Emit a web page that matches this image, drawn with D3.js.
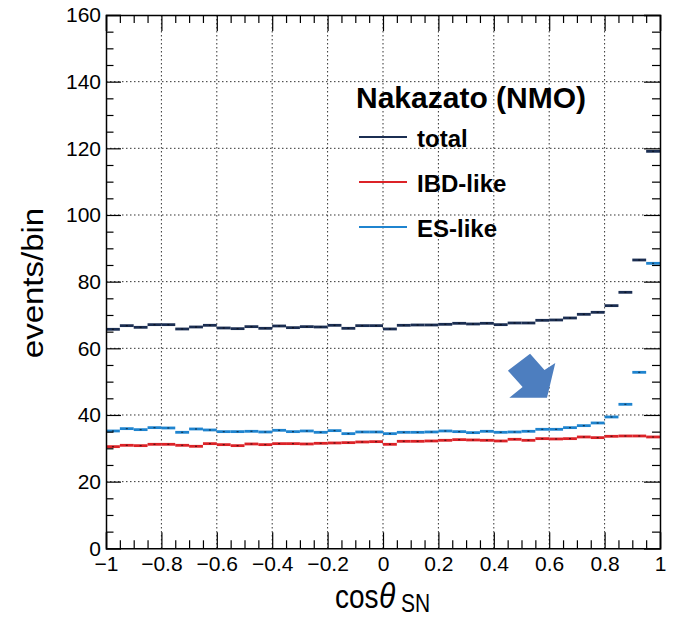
<!DOCTYPE html>
<html>
<head>
<meta charset="utf-8">
<script src="https://cdn.jsdelivr.net/npm/d3@7"></script>
<style>
  html, body { margin: 0; padding: 0; background: #fff; }
  svg { display: block; font-family: "Liberation Sans", Arial, Helvetica, sans-serif; }
</style>
</head>
<body>
<svg id="chart" width="685" height="620"></svg>
<script>
// ---- data ----
const binWidth = 0.05;
const binLow = d3.range(40).map(i => -1 + i * binWidth); // bin lower edges, cos(theta_SN)

const totalValues = [65.7, 66.8, 66.3, 67.1, 67.1, 65.8, 66.4, 66.9, 66.1, 65.9,
                     66.5, 66.0, 66.7, 66.2, 66.5, 66.4, 66.9, 66.0, 66.8, 66.8,
                     65.8, 66.9, 67.0, 67.0, 67.2, 67.5, 67.3, 67.5, 67.1, 67.6,
                     67.6, 68.4, 68.5, 69.1, 70.2, 70.8, 72.8, 76.8, 86.5, 119.1];
const esValues    = [35.2, 35.9, 35.6, 36.2, 36.1, 34.8, 35.8, 35.5, 35.0, 35.0,
                     35.1, 34.9, 35.4, 35.0, 35.2, 34.8, 35.3, 34.4, 34.9, 34.9,
                     34.4, 34.8, 34.8, 34.9, 35.2, 35.0, 34.7, 35.1, 34.8, 34.9,
                     35.1, 35.7, 35.7, 36.2, 36.8, 37.6, 39.4, 43.2, 52.8, 85.5];
const ibdValues   = [30.5, 30.9, 30.8, 31.2, 31.2, 30.9, 30.6, 31.4, 31.1, 30.8,
                     31.3, 31.1, 31.4, 31.4, 31.3, 31.5, 31.6, 31.7, 31.9, 32.0,
                     31.2, 32.1, 32.1, 32.2, 32.4, 32.6, 32.5, 32.4, 32.2, 32.7,
                     32.4, 32.9, 32.8, 32.9, 33.4, 33.2, 33.6, 33.7, 33.7, 33.4];

const seriesNames  = ["total", "IBD-like", "ES-like"];
const seriesColors = ["#1b2e52", "#dc2328", "#1f84cf"];
const legendTitle  = "Nakazato (NMO)";

const xMajorTicks = [-1, -0.8, -0.6, -0.4, -0.2, 0, 0.2, 0.4, 0.6, 0.8, 1];
const xTickLabels = ["\u22121", "\u22120.8", "\u22120.6", "\u22120.4", "\u22120.2", "0", "0.2", "0.4", "0.6", "0.8", "1"];
const yMajorTicks = [0, 20, 40, 60, 80, 100, 120, 140, 160];

// annotation arrow (data coordinates)
const arrowPoints = [[0.451, 53.3], [0.531, 58.4], [0.583, 53.5], [0.622, 55.6],
                     [0.592, 45.2], [0.456, 45.2], [0.504, 48.4]];

// ---- layout ----
const svg = d3.select("#chart");
const L = 106, R = 660, T = 15, B = 548.3;
const x = d3.scaleLinear().domain([-1, 1]).range([L, R]);
const y = d3.scaleLinear().domain([0, 160]).range([B, T]);

const xMinor = d3.range(41).map(i => -1 + i * 0.05).filter(v => !xMajorTicks.some(m => Math.abs(m - v) < 1e-9));
const yMinor = d3.range(33).map(i => i * 5).filter(v => v % 20 !== 0);

// grid
const grid = svg.append("g").attr("stroke", "#333").attr("stroke-width", 1).attr("stroke-dasharray", "1.5,2.5");
grid.selectAll("line.gx").data(xMajorTicks.slice(1, -1)).join("line")
  .attr("x1", d => x(d)).attr("x2", d => x(d)).attr("y1", T).attr("y2", B);
grid.selectAll("line.gy").data(yMajorTicks.slice(1, -1)).join("line")
  .attr("x1", L).attr("x2", R).attr("y1", d => y(d)).attr("y2", d => y(d));

// data
const series = [totalValues, ibdValues, esValues];
series.forEach((vals, si) => {
  const g = svg.append("g");
  g.selectAll("line").data(vals).join("line")
    .attr("x1", (d, i) => x(binLow[i]))
    .attr("x2", (d, i) => x(binLow[i] + binWidth))
    .attr("y1", d => y(d)).attr("y2", d => y(d))
    .attr("stroke", seriesColors[si]).attr("stroke-width", 2.8);
  g.selectAll("rect").data(vals).join("rect")
    .attr("x", (d, i) => x(binLow[i] + binWidth / 2) - 1)
    .attr("y", d => y(d) - 0.6)
    .attr("width", 2).attr("height", 1.2)
    .attr("fill", "#000").attr("opacity", 0.6);
});

// axes
function styleAxis(g) {
  g.selectAll("path.domain").attr("stroke", "#000").attr("stroke-width", 1.5);
  g.selectAll(".tick line").attr("stroke", "#000").attr("stroke-width", 1.2);
  g.selectAll(".tick text").attr("fill", "#000").attr("font-size", 21);
}
const axB = svg.append("g").attr("transform", `translate(0,${B})`)
  .call(d3.axisBottom(x).tickValues(xMajorTicks).tickSize(-16).tickPadding(8)
    .tickFormat((d, i) => xTickLabels[i]));
styleAxis(axB);
axB.append("g").call(d3.axisBottom(x).tickValues(xMinor).tickSize(-8).tickFormat(""))
  .call(g => g.select(".domain").remove()).call(styleAxis);

const axT = svg.append("g").attr("transform", `translate(0,${T})`)
  .call(d3.axisTop(x).tickValues(xMajorTicks).tickSize(-16).tickFormat(""));
styleAxis(axT);
axT.append("g").call(d3.axisTop(x).tickValues(xMinor).tickSize(-8).tickFormat(""))
  .call(g => g.select(".domain").remove()).call(styleAxis);

const axL = svg.append("g").attr("transform", `translate(${L},0)`)
  .call(d3.axisLeft(y).tickValues(yMajorTicks).tickSize(-15).tickPadding(5).tickFormat(d3.format("d")));
styleAxis(axL);
axL.append("g").call(d3.axisLeft(y).tickValues(yMinor).tickSize(-7.5).tickFormat(""))
  .call(g => g.select(".domain").remove()).call(styleAxis);

const axR = svg.append("g").attr("transform", `translate(${R},0)`)
  .call(d3.axisRight(y).tickValues(yMajorTicks).tickSize(-16).tickFormat(""));
styleAxis(axR);
axR.append("g").call(d3.axisRight(y).tickValues(yMinor).tickSize(-8).tickFormat(""))
  .call(g => g.select(".domain").remove()).call(styleAxis);

// axis titles
svg.append("text")
  .attr("transform", "translate(43,283) rotate(-90) scale(1.1,1)")
  .attr("text-anchor", "middle").attr("font-size", 30).attr("fill", "#000")
  .text("events/bin");

const xt = svg.append("text").attr("transform", "translate(335,608) scale(1,1.2)")
  .attr("fill", "#000").attr("font-size", 28);
xt.append("tspan").attr("x", 0).text("cos");
xt.append("tspan").attr("x", 44).attr("font-style", "italic").attr("font-size", 30).text("\u03b8");
xt.append("tspan").attr("x", 66).attr("dy", 3).attr("font-size", 21).text("SN");

// legend
const lg = svg.append("g");
lg.append("text").attr("x", 356).attr("y", 108).attr("font-size", 30).attr("font-weight", "bold")
  .attr("fill", "#000").text(legendTitle);
const legY = [137, 182, 227];
seriesNames.forEach((name, i) => {
  lg.append("line").attr("x1", 359).attr("x2", 407).attr("y1", legY[i]).attr("y2", legY[i])
    .attr("stroke", seriesColors[i]).attr("stroke-width", 2.2);
  lg.append("text").attr("x", 417).attr("y", legY[i] + 9.5).attr("font-size", 24)
    .attr("font-weight", "bold").attr("fill", "#000").text(name);
});

// arrow annotation
svg.append("polygon")
  .attr("points", arrowPoints.map(p => `${x(p[0])},${y(p[1])}`).join(" "))
  .attr("fill", "#4d7ebf");
</script>
</body>
</html>
